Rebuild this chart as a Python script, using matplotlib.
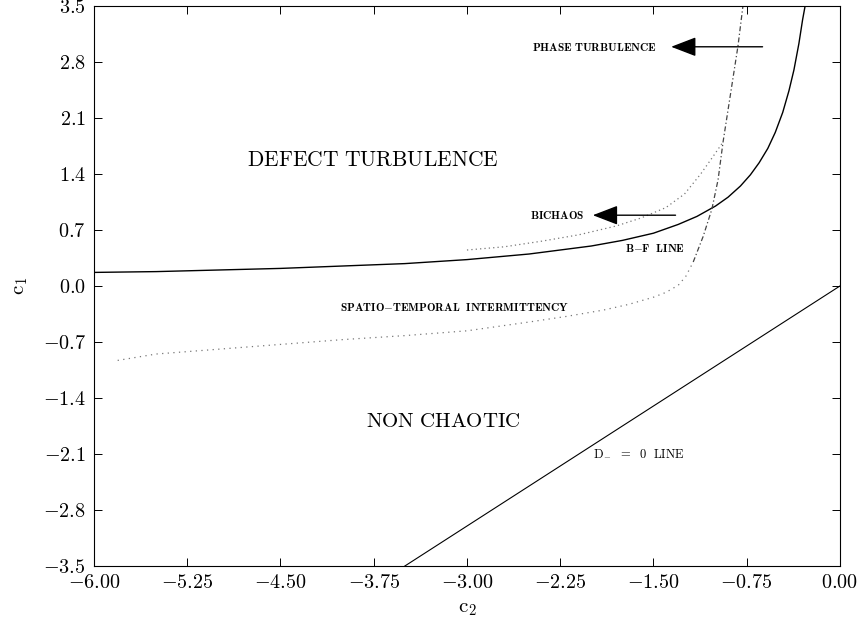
import matplotlib
matplotlib.use("Agg")
import matplotlib.pyplot as plt
from matplotlib.ticker import FixedLocator, FuncFormatter

plt.rcParams["mathtext.fontset"] = "cm"
plt.rcParams["font.family"] = "serif"
plt.rcParams["font.serif"] = ["Liberation Serif", "DejaVu Serif"]

# Benjamin-Feir line
bf_c2 = [-6.00, -5.50, -5.00, -4.50, -4.00, -3.50, -3.00, -2.50, -2.00,
         -1.75, -1.50, -1.30, -1.15, -1.00, -0.90, -0.80, -0.72, -0.65,
         -0.58, -0.52, -0.46, -0.41, -0.37, -0.33, -0.30, -0.28]
bf_c1 = [0.17, 0.18, 0.20, 0.22, 0.25, 0.28, 0.33, 0.40, 0.50,
         0.57, 0.66, 0.77, 0.87, 1.00, 1.11, 1.25, 1.39, 1.54,
         1.72, 1.92, 2.17, 2.44, 2.70, 3.03, 3.33, 3.50]

# lower edge of the bichaos region
bi_c2 = [-3.00, -2.70, -2.40, -2.10, -1.80, -1.60, -1.40, -1.25, -1.12,
         -1.02, -0.94]
bi_c1 = [0.45, 0.49, 0.56, 0.64, 0.75, 0.85, 0.98, 1.15, 1.40,
         1.62, 1.80]

# spatio-temporal intermittency boundary, flat part (dotted)
sti_c2 = [-5.81, -5.50, -5.00, -4.50, -4.00, -3.50, -3.00, -2.50, -2.20,
          -1.90, -1.70, -1.50, -1.40, -1.30, -1.24, -1.18]
sti_c1 = [-0.93, -0.85, -0.79, -0.73, -0.67, -0.62, -0.56, -0.45, -0.38,
          -0.30, -0.23, -0.14, -0.08, 0.01, 0.12, 0.30]

# steep part of the same boundary (dash-dot)
stu_c2 = [-1.18, -1.10, -1.03, -0.98, -0.94, -0.90, -0.86, -0.82, -0.78]
stu_c1 = [0.30, 0.62, 0.96, 1.33, 1.80, 2.20, 2.60, 3.00, 3.50]

# D_ = 0 line
d_c2 = [-3.50, 0.00]
d_c1 = [-3.50, 0.00]

x_ticks = [-6.00, -5.25, -4.50, -3.75, -3.00, -2.25, -1.50, -0.75, 0.00]
y_ticks = [-3.5, -2.8, -2.1, -1.4, -0.7, 0.0, 0.7, 1.4, 2.1, 2.8, 3.5]

fig = plt.figure(figsize=(8.65, 6.36), dpi=100)
ax = fig.add_axes([0.1087, 0.110, 0.8623, 0.8806])

ax.plot(bf_c2, bf_c1, color="black", lw=1.0)
ax.plot(bi_c2, bi_c1, color="#777777", lw=0.9, ls=(0, (1, 2.5)))
ax.plot(sti_c2, sti_c1, color="#777777", lw=0.9, ls=(0, (1, 3.5)))
ax.plot(stu_c2, stu_c1, color="#444444", lw=0.9, ls=(0, (4, 2, 1, 2)))
ax.plot(d_c2, d_c1, color="black", lw=0.8)

ax.set_xlim(-6.0, 0.0)
ax.set_ylim(-3.5, 3.5)

ax.xaxis.set_major_locator(FixedLocator(x_ticks))
ax.yaxis.set_major_locator(FixedLocator(y_ticks))
ax.xaxis.set_major_formatter(FuncFormatter(lambda v, p: f"${v:.2f}$"))
ax.yaxis.set_major_formatter(FuncFormatter(lambda v, p: f"${v:.1f}$"))
ax.tick_params(direction="in", length=6, width=0.7, labelsize=14.5,
               top=True, right=True, pad=6)
for sp in ax.spines.values():
    sp.set_linewidth(0.8)

ax.set_xlabel(r"$\mathrm{c}_2$", fontsize=15, labelpad=4)
ax.set_ylabel(r"$\mathrm{c}_1$", fontsize=15, labelpad=9)

# region names
big = dict(fontsize=15.5, ha="center", va="center")
ax.text(-3.76, 1.56, r"$\mathrm{DEFECT\ TURBULENCE}$", **big)
ax.text(-3.19, -1.70, r"$\mathrm{NON\ CHAOTIC}$", fontsize=15,
        ha="center", va="center")

small = dict(fontsize=8.2, va="center", ha="left")
ax.text(-2.48, 2.99, r"$\mathbf{PHASE\ TURBULENCE}$", **small)
ax.text(-2.49, 0.885, r"$\mathbf{BICHAOS}$", **small)
ax.text(-1.49, 0.47, r"$\mathbf{B{-}F\ \ LINE}$", fontsize=8.2,
        ha="center", va="center")
ax.text(-4.02, -0.26, r"$\mathbf{SPATIO{-}TEMPORAL\ \ INTERMITTENCY}$", **small)
ax.text(-1.99, -2.09, r"$\mathrm{D_{-}\ \ =\ \ 0\ \ LINE}$",
        fontsize=9, va="center", ha="left")

arrow_kw = dict(arrowstyle="-|>,head_length=1.3,head_width=0.5",
                color="black", lw=1.0, mutation_scale=12)
ax.annotate("", xy=(-1.38, 2.99), xytext=(-0.60, 2.99), arrowprops=arrow_kw)
ax.annotate("", xy=(-2.01, 0.885), xytext=(-1.30, 0.885), arrowprops=arrow_kw)

fig.savefig("out.png", dpi=100)
